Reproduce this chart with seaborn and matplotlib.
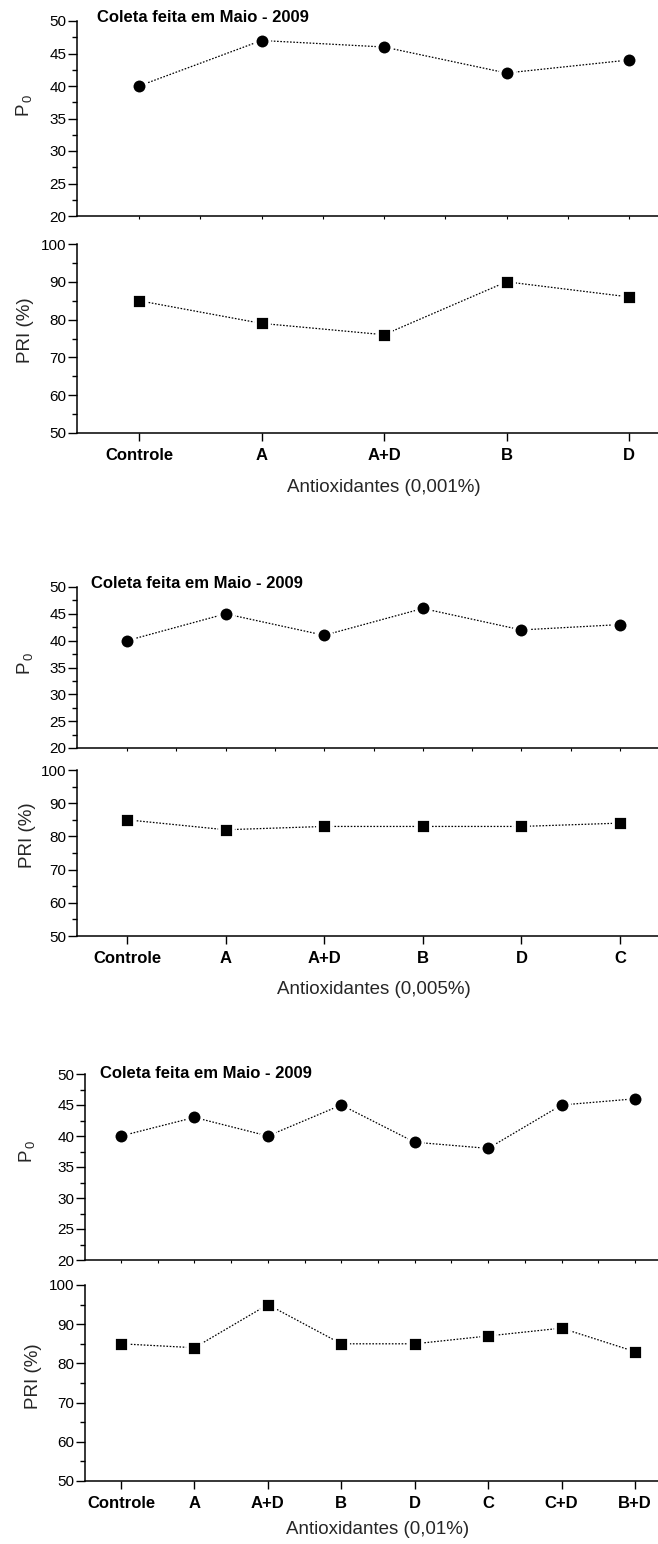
import numpy as np
import matplotlib
matplotlib.use("Agg")
import matplotlib.pyplot as plt
from matplotlib.ticker import MultipleLocator, FixedLocator
import seaborn as sns

# ---- data -------------------------------------------------------------
cats_001 = ["Controle", "A", "A+D", "B", "D"]
p0_001 = [40, 47, 46, 42, 44]
pri_001 = [85, 79, 76, 90, 86]

cats_005 = ["Controle", "A", "A+D", "B", "D", "C"]
p0_005 = [40, 45, 41, 46, 42, 43]
pri_005 = [85, 82, 83, 83, 83, 84]

cats_01 = ["Controle", "A", "A+D", "B", "D", "C", "C+D", "B+D"]
p0_01 = [40, 43, 40, 45, 39, 38, 45, 46]
pri_01 = [85, 84, 95, 85, 85, 87, 89, 83]

title = "Coleta feita em Maio - 2009"
xlabels = ["Antioxidantes (0,001%)", "Antioxidantes (0,005%)", "Antioxidantes (0,01%)"]
p0_label = r"$\mathregular{P_{\,0}}$"
pri_label = "PRI (%)"

# ---- style ------------------------------------------------------------
sns.set_theme(style="ticks")
plt.rcParams["font.family"] = ["Liberation Sans", "DejaVu Sans"]
plt.rcParams["mathtext.fontset"] = "custom"
plt.rcParams["mathtext.rm"] = "Liberation Sans"
plt.rcParams["mathtext.it"] = "Liberation Sans:italic"
plt.rcParams["axes.edgecolor"] = "black"
plt.rcParams["text.color"] = "black"
plt.rcParams["xtick.color"] = "black"
plt.rcParams["ytick.color"] = "black"

W, H = 658, 1544
fig = plt.figure(figsize=(W / 100, H / 100), dpi=100)
fig.patch.set_facecolor("white")


def fx(px):
    return px / W


def fy(py):
    return 1 - py / H


def add_axes(left, ytop, ybot):
    return fig.add_axes([fx(left), fy(ybot), 1 - fx(left), (ybot - ytop) / H])


# page layout of each block (pixel positions on the page)
layouts = [
    dict(left=77, top=(21, 216), bot=(244, 433), first=139, step=122.5,
         title=(97, 17), p0lab=(24, 105), prilab=(25, 330), xlab_y=488),
    dict(left=77, top=(587, 748), bot=(770, 936), first=127, step=98.6,
         title=(91, 583), p0lab=(25, 663), prilab=(28, 835), xlab_y=989),
    dict(left=85, top=(1074, 1260), bot=(1285, 1481), first=121, step=73.43,
         title=(100, 1073), p0lab=(27, 1151), prilab=(33, 1376), xlab_y=1530),
]

blocks = [
    (cats_001, p0_001, pri_001, xlabels[0]),
    (cats_005, p0_005, pri_005, xlabels[1]),
    (cats_01, p0_01, pri_01, xlabels[2]),
]


def series(ax, x, y, marker, ms):
    sns.lineplot(x=x, y=y, ax=ax, color="black", marker=marker,
                 markersize=ms, markeredgecolor="white", markeredgewidth=2.0,
                 linestyle=(0, (1.3, 1.3)), linewidth=0.9,
                 estimator=None, sort=False, legend=False)


def style_y(ax, lo, hi, major, minor):
    ax.set_ylim(lo, hi)
    ax.yaxis.set_major_locator(MultipleLocator(major))
    ax.yaxis.set_minor_locator(MultipleLocator(minor))
    ax.tick_params(axis="y", which="major", direction="out", length=6.5,
                   width=1.0, pad=1.0, labelsize=11)
    ax.tick_params(axis="y", which="minor", direction="out", length=3.4,
                   width=1.0)
    for side in ("top", "right"):
        ax.spines[side].set_visible(False)
    for side in ("left", "bottom"):
        ax.spines[side].set_linewidth(1.1)
    ax.set_facecolor("white")
    ax.grid(False)


for (cats, p0, pri, xlab), L in zip(blocks, layouts):
    n = len(cats)
    pos = np.arange(n)
    x0 = (L["left"] - L["first"]) / L["step"]
    x1 = (W - L["first"]) / L["step"]

    # upper panel: P0
    ax_t = add_axes(L["left"], *L["top"])
    series(ax_t, pos, p0, "o", 10.6)
    style_y(ax_t, 20, 50, 5, 2.5)
    ax_t.set_xlim(x0, x1)
    ax_t.xaxis.set_major_locator(FixedLocator(pos))
    ax_t.xaxis.set_minor_locator(FixedLocator(pos[:-1] + 0.5))
    ax_t.tick_params(axis="x", which="both", direction="out", length=1.8,
                     width=0.8, labelbottom=False)
    ax_t.set_xlabel("")
    ax_t.set_ylabel(p0_label, fontsize=13.5)
    ax_t.yaxis.label.set_va("center")
    ax_t.yaxis.set_label_coords(fx(L["p0lab"][0]), fy(L["p0lab"][1]),
                                transform=fig.transFigure)

    # lower panel: PRI
    ax_b = add_axes(L["left"], *L["bot"])
    series(ax_b, pos, pri, "s", 9.4)
    style_y(ax_b, 50, 100, 10, 5)
    ax_b.set_xlim(x0, x1)
    ax_b.set_xticks(pos)
    ax_b.set_xticklabels(cats, fontsize=12, fontweight="bold")
    ax_b.tick_params(axis="x", which="major", direction="out", length=5.5,
                     width=1.0, pad=5)
    ax_b.tick_params(axis="x", which="minor", length=0)
    ax_b.set_ylabel(pri_label, fontsize=13.5)
    ax_b.yaxis.label.set_va("center")
    ax_b.yaxis.set_label_coords(fx(L["prilab"][0]), fy(L["prilab"][1]),
                                transform=fig.transFigure)

    ax_b.set_xlabel(xlab, fontsize=13.5)
    ax_b.xaxis.label.set_va("center")
    mid_px = L["first"] + (n - 1) / 2 * L["step"]
    ax_b.xaxis.set_label_coords(fx(mid_px), fy(L["xlab_y"]),
                                transform=fig.transFigure)

    fig.text(fx(L["title"][0]), fy(L["title"][1]), title, ha="left",
             va="center", fontsize=12, fontweight="bold")

fig.savefig("out.png", dpi=100, facecolor="white")
